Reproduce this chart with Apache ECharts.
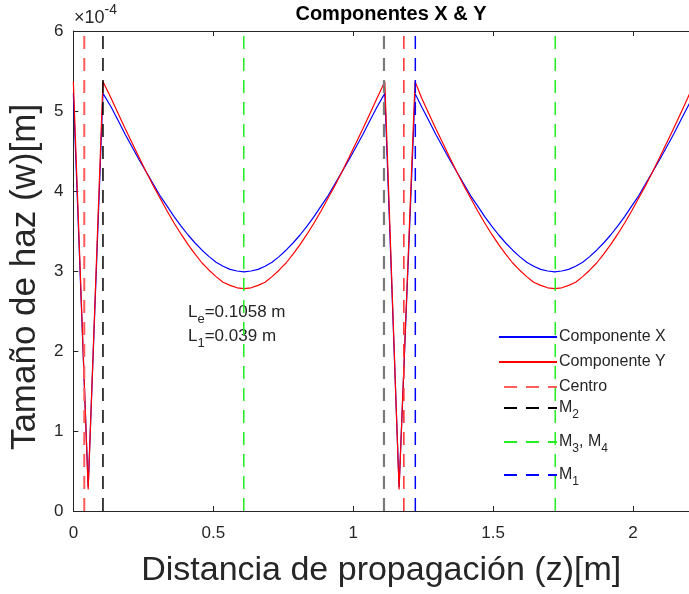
<!DOCTYPE html>
<html>
<head>
<meta charset="utf-8">
<script src="https://cdn.jsdelivr.net/npm/echarts@6/dist/echarts.min.js"></script>
<style>
  html, body { margin: 0; padding: 0; background: #fff; }
  #chart { width: 689px; height: 594px; }
</style>
</head>
<body>
<div id="chart"></div>
<script>
  // distancia z [m] y tamaño del haz (x1e-4 m)
  var zList = [0, 0.053, 0.1058,
    0.135, 0.16, 0.185, 0.21, 0.235, 0.26, 0.285, 0.31, 0.335, 0.36,
    0.385, 0.41, 0.435, 0.46, 0.485, 0.51, 0.535, 0.56, 0.585, 0.61,
    0.635, 0.66, 0.685, 0.71, 0.735, 0.76, 0.785, 0.81, 0.835, 0.86,
    0.885, 0.91, 0.935, 0.96, 0.985, 1.01, 1.035, 1.06, 1.085, 1.113,
    1.164, 1.221,
    1.245, 1.27, 1.295, 1.32, 1.345, 1.37, 1.395, 1.42, 1.445, 1.47,
    1.495, 1.52, 1.545, 1.57, 1.595, 1.62, 1.645, 1.67, 1.695, 1.72,
    1.745, 1.77, 1.795, 1.82, 1.845, 1.87, 1.895, 1.92, 1.945, 1.97,
    1.995, 2.02, 2.045, 2.07, 2.095, 2.12, 2.145, 2.17, 2.195, 2.22];
  var wxList = [5.22, 0.30, 5.22,
    5.05, 4.88, 4.71, 4.55, 4.39, 4.24, 4.09, 3.94, 3.81, 3.68,
    3.56, 3.45, 3.35, 3.26, 3.18, 3.11, 3.06, 3.02, 3.00, 2.99,
    3.00, 3.02, 3.06, 3.11, 3.18, 3.26, 3.35, 3.45, 3.56, 3.68,
    3.81, 3.94, 4.09, 4.24, 4.39, 4.55, 4.71, 4.88, 5.05, 5.22,
    0.30, 5.22,
    5.05, 4.88, 4.71, 4.55, 4.39, 4.24, 4.09, 3.94, 3.81, 3.68,
    3.56, 3.45, 3.35, 3.26, 3.18, 3.11, 3.06, 3.02, 3.00, 2.99,
    3.00, 3.02, 3.06, 3.11, 3.18, 3.26, 3.35, 3.45, 3.56, 3.68,
    3.81, 3.94, 4.09, 4.24, 4.39, 4.55, 4.71, 4.88, 5.05, 5.22];
  var wyList = [5.37, 0.27, 5.37,
    5.16, 4.97, 4.78, 4.60, 4.42, 4.24, 4.07, 3.91, 3.75, 3.60,
    3.46, 3.33, 3.21, 3.10, 3.01, 2.93, 2.86, 2.82, 2.79, 2.78,
    2.79, 2.82, 2.86, 2.93, 3.01, 3.10, 3.21, 3.33, 3.46, 3.60,
    3.75, 3.91, 4.07, 4.24, 4.42, 4.60, 4.78, 4.97, 5.16, 5.37,
    0.27, 5.37,
    5.16, 4.97, 4.78, 4.60, 4.42, 4.24, 4.07, 3.91, 3.75, 3.60,
    3.46, 3.33, 3.21, 3.10, 3.01, 2.93, 2.86, 2.82, 2.79, 2.78,
    2.79, 2.82, 2.86, 2.93, 3.01, 3.10, 3.21, 3.33, 3.46, 3.60,
    3.75, 3.91, 4.07, 4.24, 4.42, 4.60, 4.78, 4.97, 5.16, 5.36];

  // posiciones de las líneas verticales
  var centroZ = [0.039, 1.181];
  var m2Z = [0.1058, 1.110];
  var m34Z = [0.609, 1.722];
  var m1Z = [1.222];

  var xTicks = [0, 0.5, 1, 1.5, 2];
  var yTicks = [0, 1, 2, 3, 4, 5, 6];

  var legendNames = ['Componente X', 'Componente Y', 'Centro', 'M2', 'M3, M4', 'M1'];
  var legendLabels = {
    'Componente X': '{t|Componente X}',
    'Componente Y': '{t|Componente Y}',
    'Centro': '{t|Centro}',
    'M2': '{t|M}{s|2}',
    'M3, M4': '{t|M}{s|3}{t|, M}{s|4}',
    'M1': '{t|M}{s|1}'
  };
  var legendTops = [329, 354, 379, 400, 434, 467];

  var FONT = 'Liberation Sans, Arial, Helvetica, sans-serif';
  var INK = '#262626';
  var richText = {
    t: { fontSize: 16, fontFamily: FONT, color: INK, verticalAlign: 'top', lineHeight: 16 },
    s: { fontSize: 12, fontFamily: FONT, color: INK, verticalAlign: 'top', lineHeight: 12, padding: [9, 0, 0, 0] }
  };

  var myChart = echarts.init(document.getElementById('chart'));

  function curve(name, ws, color) {
    return {
      name: name,
      type: 'line',
      symbol: 'none',
      clip: true,
      lineStyle: { color: color, width: 1.2 },
      itemStyle: { color: color },
      data: zList.map(function (z, i) { return [z, ws[i]]; })
    };
  }

  function vline(name, z, color, width) {
    return {
      name: name,
      type: 'line',
      symbol: 'none',
      clip: true,
      lineStyle: { color: color, width: width, type: [13, 9], dashOffset: 17 },
      itemStyle: { color: color },
      data: [[z, 6], [z, 0]]
    };
  }

  var series = [
    curve('Componente X', wxList, '#0000ff'),
    curve('Componente Y', wyList, '#ff0000'),
    vline('Centro', centroZ[0], '#ff5c5c', 2),
    vline('Centro', centroZ[1], '#ff2a2a', 1.5),
    vline('M2', m2Z[0], '#000000', 1.5),
    vline('M2', m2Z[1], '#7a7a7a', 2.2),
    vline('M3, M4', m34Z[0], '#22ee22', 1.5),
    vline('M3, M4', m34Z[1], '#22ee22', 1.5),
    vline('M1', m1Z[0], '#0000ff', 1.5)
  ];

  var legends = legendNames.map(function (n, i) {
    return {
      data: [n],
      left: 498,
      top: legendTops[i],
      padding: 0,
      itemWidth: 58,
      itemHeight: 14,
      itemGap: 2,
      backgroundColor: 'transparent',
      itemStyle: { opacity: 0, borderWidth: 0 },
      formatter: function (name) { return legendLabels[name]; },
      textStyle: { rich: richText, padding: [0, 0, 0, -3] }
    };
  });

  var axisCommon = {
    type: 'value',
    axisLine: { show: true, onZero: false, lineStyle: { color: INK, width: 1 } },
    axisTick: { show: true, inside: true, length: 5, lineStyle: { color: INK } },
    splitLine: { show: false }
  };

  var option = {
    animation: false,
    backgroundColor: '#ffffff',
    title: {
      text: 'Componentes X & Y',
      left: 386,
      top: -1,
      textAlign: 'center',
      textStyle: { fontFamily: FONT, fontSize: 20, fontWeight: 'bold', color: '#000' }
    },
    grid: { left: 73, top: 31, width: 619, height: 480, containLabel: false },
    legend: legends,
    xAxis: [
      Object.assign({}, axisCommon, {
        position: 'bottom',
        min: 0, max: 2.2, interval: 0.5,
        axisLabel: {
          margin: 14, fontSize: 17, fontFamily: FONT, color: INK, showMaxLabel: false,
          formatter: function (v) { return xTicks.indexOf(v) >= 0 ? String(v) : ''; }
        },
        name: 'Distancia de propagación (z)[m]',
        nameLocation: 'middle',
        nameGap: 43,
        nameTextStyle: { fontFamily: FONT, fontSize: 34, color: INK }
      }),
      Object.assign({}, axisCommon, {
        position: 'top',
        min: 0, max: 2.2, interval: 0.5,
        axisLabel: { show: false }
      })
    ],
    yAxis: [
      Object.assign({}, axisCommon, {
        position: 'left',
        min: 0, max: 6, interval: 1,
        axisLabel: {
          margin: 10, fontSize: 17, fontFamily: FONT, color: INK,
          formatter: function (v) { return yTicks.indexOf(v) >= 0 ? String(v) : ''; }
        },
        name: 'Tamaño de haz (w)[m]',
        nameLocation: 'middle',
        nameGap: 24,
        nameTextStyle: { fontFamily: FONT, fontSize: 35, color: INK, padding: [0, 12, 0, 0] }
      })
    ],
    graphic: [
      {
        type: 'text', left: 74, top: 3,
        style: {
          text: '{a|×10}{b|-4}',
          rich: {
            a: { fontSize: 18, fontFamily: FONT, fill: INK, color: INK, verticalAlign: 'bottom', lineHeight: 24 },
            b: { fontSize: 14, fontFamily: FONT, fill: INK, color: INK, verticalAlign: 'top', lineHeight: 24, padding: [0, 0, 8, 0] }
          }
        }
      },
      {
        type: 'text', left: 188, top: 304,
        style: {
          text: '{n|L}{s|e}{n|=0.1058 m}\n{n|L}{s|1}{n|=0.039 m}',
          rich: {
            n: { fontSize: 17, fontFamily: FONT, fill: INK, color: INK, verticalAlign: 'top', lineHeight: 24 },
            s: { fontSize: 13, fontFamily: FONT, fill: INK, color: INK, verticalAlign: 'top', lineHeight: 24, padding: [9, 0, 0, 0] }
          }
        }
      }
    ],
    series: series
  };

  myChart.setOption(option);
</script>
</body>
</html>
